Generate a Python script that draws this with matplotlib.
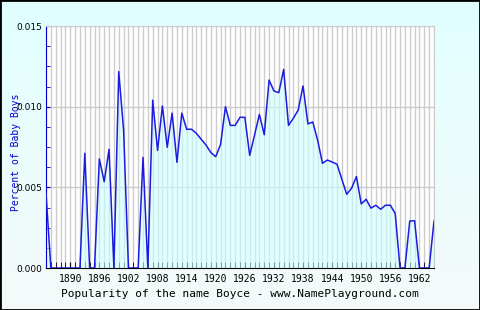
import numpy as np
import matplotlib
matplotlib.use("Agg")
import matplotlib.pyplot as plt

# share of baby boys named Boyce, 1885-1965
years = list(range(1885, 1966))
percent = [0.00465, 0, 0, 0, 0, 0, 0, 0, 0.00711, 0,
           0, 0.00676, 0.00535, 0.00736, 0, 0.01217, 0.00855, 0, 0, 0,
           0.00686, 0, 0.0104, 0.00729, 0.01004, 0.00748, 0.0096, 0.00655, 0.0096, 0.0086,
           0.0086, 0.00835, 0.00798, 0.00762, 0.00715, 0.0069, 0.00766, 0.0100, 0.00884, 0.00884,
           0.00934, 0.00934, 0.00698, 0.00824, 0.00952, 0.00826, 0.01165, 0.01097, 0.01087, 0.01231,
           0.00884, 0.00928, 0.00979, 0.01128, 0.00893, 0.00905, 0.00793, 0.00649, 0.00669, 0.00657,
           0.00643, 0.0055, 0.00457, 0.00494, 0.00567, 0.00397, 0.00426, 0.00371, 0.00389, 0.00364,
           0.00389, 0.00389, 0.00338, 0, 0, 0.00291, 0.00293, 0, 0, 0,
           0.00291]
tick_years = list(range(1890, 1963, 6))
y_ticks = [0.0, 0.005, 0.010, 0.015]
y_labels = ["0.000", "0.005", "0.010", "0.015"]

fig = plt.figure(figsize=(4.8, 3.1), dpi=100)

# background: pale cyan fading to near white, with a black frame
bg = fig.add_axes([0, 0, 1, 1], zorder=-10)
grad = np.linspace(0, 1, 100).reshape(-1, 1)
top = np.array([0.88, 1.0, 1.0])
bot = np.array([0.96, 0.98, 0.98])
img = top + (bot - top) * grad[:, :, None]
bg.imshow(img, aspect="auto", extent=[0, 1, 0, 1])
bg.set_xlim(0, 1)
bg.set_ylim(0, 1)
bg.axis("off")
fig.patches.append(plt.Rectangle((0, 0), 1, 1, transform=fig.transFigure,
                                 fill=False, edgecolor="black", linewidth=2))

ax = fig.add_axes([46/480, 42/310, 388/480, 242/310])
ax.set_facecolor("white")
ax.set_xlim(1885, 1965)
ax.set_ylim(0, 0.015)

for yr in years:
    ax.axvline(yr, color="#cccccc", linewidth=1, zorder=1)
for v in [0.005, 0.010, 0.015]:
    ax.axhline(v, color="#cccccc", linewidth=1, zorder=1)

ax.fill_between(years, percent, 0, color="#ccffff", alpha=0.6, zorder=2, linewidth=0)
ax.plot(years, percent, color="#1c1ce0", linewidth=1.1, zorder=3)

ax.set_xticks(tick_years)
ax.set_xticks(years, minor=True)
ax.set_xticklabels([str(t) for t in tick_years], fontsize=7, family="DejaVu Sans Mono")
ax.set_yticks(y_ticks)
ax.set_yticks(np.arange(0, 0.0151, 0.00125), minor=True)
ax.set_yticklabels(y_labels, fontsize=6.5)

ax.tick_params(axis="x", which="both", direction="in", length=4, color="black", pad=4)
ax.tick_params(axis="y", which="both", direction="in", length=3, color="#0000cc", pad=3)

for side in ["top", "right"]:
    ax.spines[side].set_color("#cccccc")
ax.spines["left"].set_color("#0000cc")
ax.spines["bottom"].set_color("black")

ax.set_ylabel("Percent of Baby Boys", color="#0000cc", fontsize=7, family="DejaVu Sans Mono")
ax.yaxis.set_label_coords(-0.065, 0.48)
ax.set_xlabel("Popularity of the name Boyce - www.NamePlayground.com", fontsize=8,
              family="DejaVu Sans Mono", labelpad=4)

fig.savefig("out.png", dpi=100)
